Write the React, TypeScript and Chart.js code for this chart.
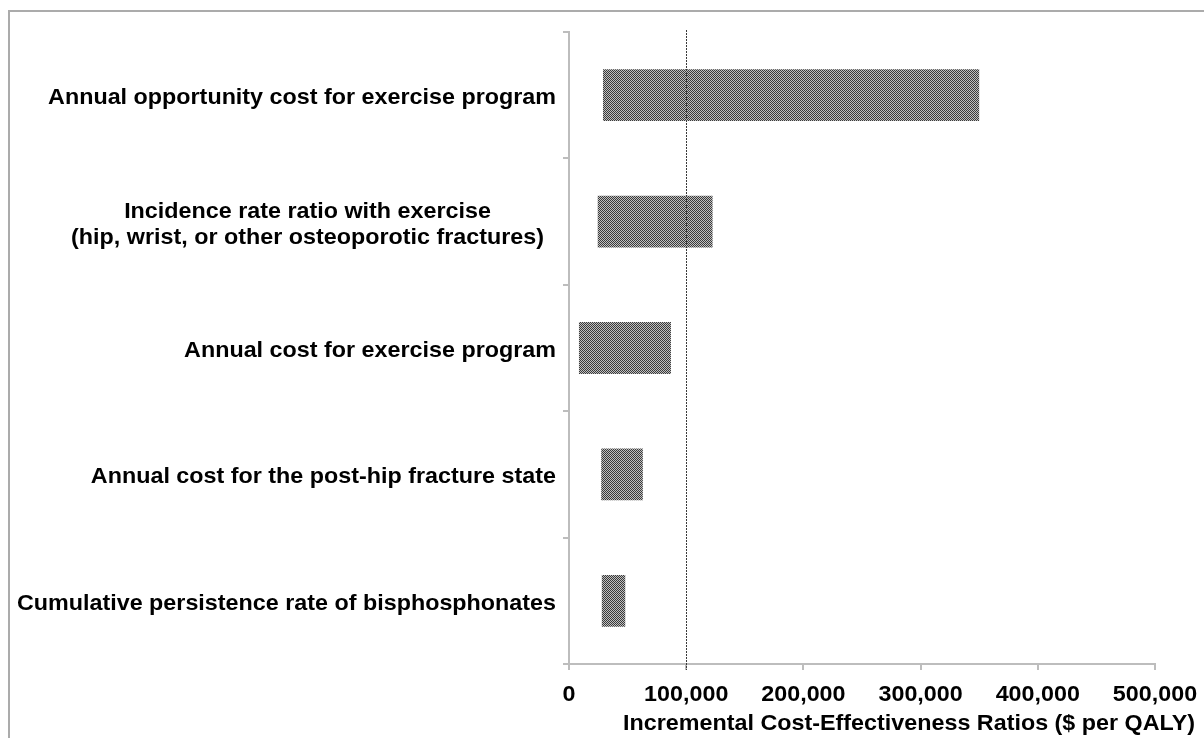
import { useEffect, useRef } from "react";
import { Chart, registerables } from "chart.js";

Chart.register(...registerables);

// Tornado diagram: one-way sensitivity ranges of the ICER
const categories: string[][] = [
  ["Annual opportunity cost for exercise program"],
  ["Incidence rate ratio with exercise", "(hip, wrist, or other osteoporotic fractures)"],
  ["Annual cost for exercise program"],
  ["Annual cost for the post-hip fracture state"],
  ["Cumulative persistence rate of bisphosphonates"],
];
const lowValues = [29000, 24500, 8500, 27500, 28000];
const highValues = [350000, 122500, 87000, 63000, 48000];
const xTickValues = [0, 100000, 200000, 300000, 400000, 500000];
const thresholdValue = 100000;
const xAxisTitle = "Incremental Cost-Effectiveness Ratios ($ per QALY)";

const FONT_FAMILY = '"Liberation Sans", Arial, Helvetica, sans-serif';
const LABEL_SIZE = 22;
const TEXT_SX = 1.06;

function makeDither(): CanvasPattern | string {
  const c = document.createElement("canvas");
  c.width = 2;
  c.height = 2;
  const g = c.getContext("2d");
  if (!g) return "#808080";
  g.fillStyle = "#c0c0c0";
  g.fillRect(0, 0, 2, 2);
  g.fillStyle = "#3a3a3a";
  g.fillRect(0, 0, 1, 1);
  g.fillRect(1, 1, 1, 1);
  const p = g.createPattern(c, "repeat");
  return p || "#808080";
}

function drawText(
  ctx: CanvasRenderingContext2D,
  text: string,
  x: number,
  y: number,
  align: "left" | "right" | "center",
  size: number
) {
  ctx.save();
  ctx.font = `bold ${size}px ${FONT_FAMILY}`;
  ctx.fillStyle = "#000";
  ctx.textBaseline = "middle";
  ctx.textAlign = "left";
  const w = ctx.measureText(text).width * TEXT_SX;
  let left = x;
  if (align === "right") left = x - w;
  else if (align === "center") left = x - w / 2;
  ctx.translate(left, y);
  ctx.scale(TEXT_SX, 1);
  ctx.fillText(text, 0, 0);
  ctx.restore();
}

function textWidth(ctx: CanvasRenderingContext2D, text: string, size: number) {
  ctx.save();
  ctx.font = `bold ${size}px ${FONT_FAMILY}`;
  const w = ctx.measureText(text).width * TEXT_SX;
  ctx.restore();
  return w;
}

const framePlugin = {
  id: "frame",
  beforeDraw(chart: Chart) {
    const ctx = chart.ctx;
    ctx.save();
    ctx.fillStyle = "#ffffff";
    ctx.fillRect(0, 0, chart.width, chart.height);
    ctx.strokeStyle = "#ababab";
    ctx.lineWidth = 2;
    ctx.beginPath();
    ctx.moveTo(9, chart.height + 5);
    ctx.lineTo(9, 11);
    ctx.lineTo(chart.width + 5, 11);
    ctx.stroke();
    ctx.restore();
  },
};

const thresholdPlugin = {
  id: "threshold",
  afterDatasetsDraw(chart: Chart) {
    const { ctx, chartArea, scales } = chart;
    const x = Math.round(scales.x.getPixelForValue(thresholdValue)) + 0.5;
    ctx.save();
    ctx.strokeStyle = "#3a3a3a";
    ctx.lineWidth = 1;
    ctx.setLineDash([2, 1]);
    ctx.beginPath();
    ctx.moveTo(x, chartArea.top - 2);
    ctx.lineTo(x, chartArea.bottom + 6);
    ctx.stroke();
    ctx.restore();
  },
};

const labelsPlugin = {
  id: "textLabels",
  afterDraw(chart: Chart) {
    const { ctx, chartArea, scales } = chart;
    // category labels
    categories.forEach((lines, i) => {
      const cy = scales.y.getPixelForValue(i) + 3;
      if (lines.length === 1) {
        drawText(ctx, lines[0], chartArea.left - 13, cy, "right", LABEL_SIZE);
      } else {
        const lh = 26;
        const widths = lines.map((l) => textWidth(ctx, l, LABEL_SIZE));
        const maxW = Math.max(...widths);
        const centerX = chartArea.left - 25 - maxW / 2;
        lines.forEach((l, j) => {
          const y = cy + (j - (lines.length - 1) / 2) * lh;
          drawText(ctx, l, centerX, y, "center", LABEL_SIZE);
        });
      }
    });
    // x tick labels
    xTickValues.forEach((v) => {
      const x = scales.x.getPixelForValue(v);
      drawText(ctx, v.toLocaleString("en-US"), x, chartArea.bottom + 31, "center", LABEL_SIZE);
    });
    // axis title
    drawText(ctx, xAxisTitle, 909, chartArea.bottom + 60, "center", LABEL_SIZE);
  },
};

export default function App() {
  const canvasRef = useRef<HTMLCanvasElement | null>(null);

  useEffect(() => {
    const canvas = canvasRef.current;
    if (!canvas) return;
    const dither = makeDither();
    const chart = new Chart(canvas, {
      type: "bar",
      data: {
        labels: categories.map((c) => c.join(" ")),
        datasets: [
          {
            data: lowValues.map((lo, i) => [lo, highValues[i]]) as any,
            backgroundColor: dither as any,
            borderWidth: 0,
            categoryPercentage: 1,
            barPercentage: 0.41,
          },
        ],
      },
      options: {
        indexAxis: "y",
        responsive: false,
        animation: false,
        devicePixelRatio: 1,
        layout: { padding: { left: 569, right: 49, top: 32, bottom: 74 } },
        plugins: {
          legend: { display: false },
          tooltip: { enabled: false },
          title: { display: false },
        },
        scales: {
          x: {
            type: "linear",
            position: "bottom",
            min: 0,
            max: 500000,
            afterFit: (s: any) => {
              s.height = 0;
            },
            ticks: { display: false, stepSize: 100000 },
            grid: {
              display: true,
              drawOnChartArea: false,
              drawTicks: true,
              tickLength: 6,
              color: "#bdbdbd",
              lineWidth: 2,
            },
            border: { display: true, color: "#bdbdbd", width: 2 },
          },
          y: {
            type: "category",
            position: "left",
            offset: true,
            afterFit: (s: any) => {
              s.width = 0;
            },
            ticks: { display: false },
            grid: {
              display: true,
              offset: true,
              drawOnChartArea: false,
              drawTicks: true,
              tickLength: 6,
              color: "#bdbdbd",
              lineWidth: 2,
            },
            border: { display: true, color: "#bdbdbd", width: 2 },
          },
        },
      },
      plugins: [framePlugin, thresholdPlugin, labelsPlugin],
    });
    return () => chart.destroy();
  }, []);

  return (
    <div style={{ position: "fixed", left: 0, top: 0, width: 1204, height: 738, background: "#fff" }}>
      <canvas ref={canvasRef} width={1204} height={738} style={{ display: "block" }} />
    </div>
  );
}
